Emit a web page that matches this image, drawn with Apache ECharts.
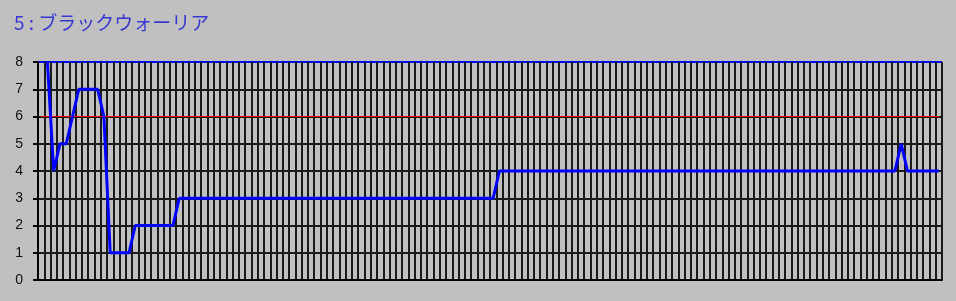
<!DOCTYPE html>
<html>
<head>
<meta charset="utf-8">
<script src="https://cdn.jsdelivr.net/npm/echarts@6/dist/echarts.min.js"></script>
<style>
html,body{margin:0;padding:0;background:#c0c0c0;}
#chart{width:956px;height:301px;}
</style>
</head>
<body>
<div id="chart"></div>
<script>
var titleText = '5 : ブラックウォーリア';
var yTicks = [0, 1, 2, 3, 4, 5, 6, 7, 8];
var thresholdValue = 6;
var categories = [];
for (var i = 1; i <= 144; i++) categories.push(String(i));
var values = [
  null, 8, 4, 5, 5, 6, 7, 7, 7, 7, 6, 1, 1, 1, 1, 2, 2, 2, 2, 2,
  2, 2, 3, 3, 3, 3, 3, 3, 3, 3, 3, 3, 3, 3, 3, 3, 3, 3, 3, 3,
  3, 3, 3, 3, 3, 3, 3, 3, 3, 3, 3, 3, 3, 3, 3, 3, 3, 3, 3, 3,
  3, 3, 3, 3, 3, 3, 3, 3, 3, 3, 3, 3, 3, 4, 4, 4, 4, 4, 4, 4,
  4, 4, 4, 4, 4, 4, 4, 4, 4, 4, 4, 4, 4, 4, 4, 4, 4, 4, 4, 4,
  4, 4, 4, 4, 4, 4, 4, 4, 4, 4, 4, 4, 4, 4, 4, 4, 4, 4, 4, 4,
  4, 4, 4, 4, 4, 4, 4, 4, 4, 4, 4, 4, 4, 4, 4, 4, 4, 5, 4, 4,
  4, 4, 4, 4
];

var chart = echarts.init(document.getElementById('chart'));
chart.setOption({
  backgroundColor: '#c0c0c0',
  animation: false,
  title: {
    text: titleText,
    left: 9,
    top: 8,
    textStyle: {color: '#3838d0', fontSize: 19, fontWeight: 'normal', fontFamily: 'Noto Sans CJK JP'}
  },
  grid: {left: 38, right: 14, top: 62, bottom: 21, containLabel: false},
  xAxis: {
    type: 'category',
    data: categories,
    boundaryGap: true,
    axisLine: {show: true, lineStyle: {color: '#000', width: 2}},
    axisTick: {show: false},
    axisLabel: {show: false},
    splitLine: {show: true, interval: 0, lineStyle: {color: '#1a1a1a', width: 2}}
  },
  yAxis: {
    type: 'value',
    min: yTicks[0],
    max: yTicks[yTicks.length - 1],
    interval: 1,
    axisLine: {show: true, lineStyle: {color: '#000', width: 2}},
    axisTick: {show: true, length: 5, lineStyle: {color: '#000', width: 2}},
    axisLabel: {margin: 15, color: '#111', fontSize: 14, fontFamily: 'Liberation Sans'},
    splitLine: {show: true, lineStyle: {width: 2, color: ['#1a1a1a','#1a1a1a','#1a1a1a','#1a1a1a','#1a1a1a','#1a1a1a','#1a1a1a','#1a1a1a','#0000ff']}}
  },
  series: [{
    type: 'line',
    data: values,
    showSymbol: false,
    symbol: 'none',
    connectNulls: false,
    lineStyle: {color: '#0000ff', width: 3},
    itemStyle: {color: '#0000ff'},
    z: 5,
    markLine: {
      silent: true,
      symbol: 'none',
      label: {show: false},
      lineStyle: {color: '#ff0000', width: 1, type: 'solid'},
      data: [[{coord: [categories[0], thresholdValue]}, {coord: [categories[categories.length - 1], thresholdValue]}]]
    }
  }]
});
</script>
</body>
</html>
